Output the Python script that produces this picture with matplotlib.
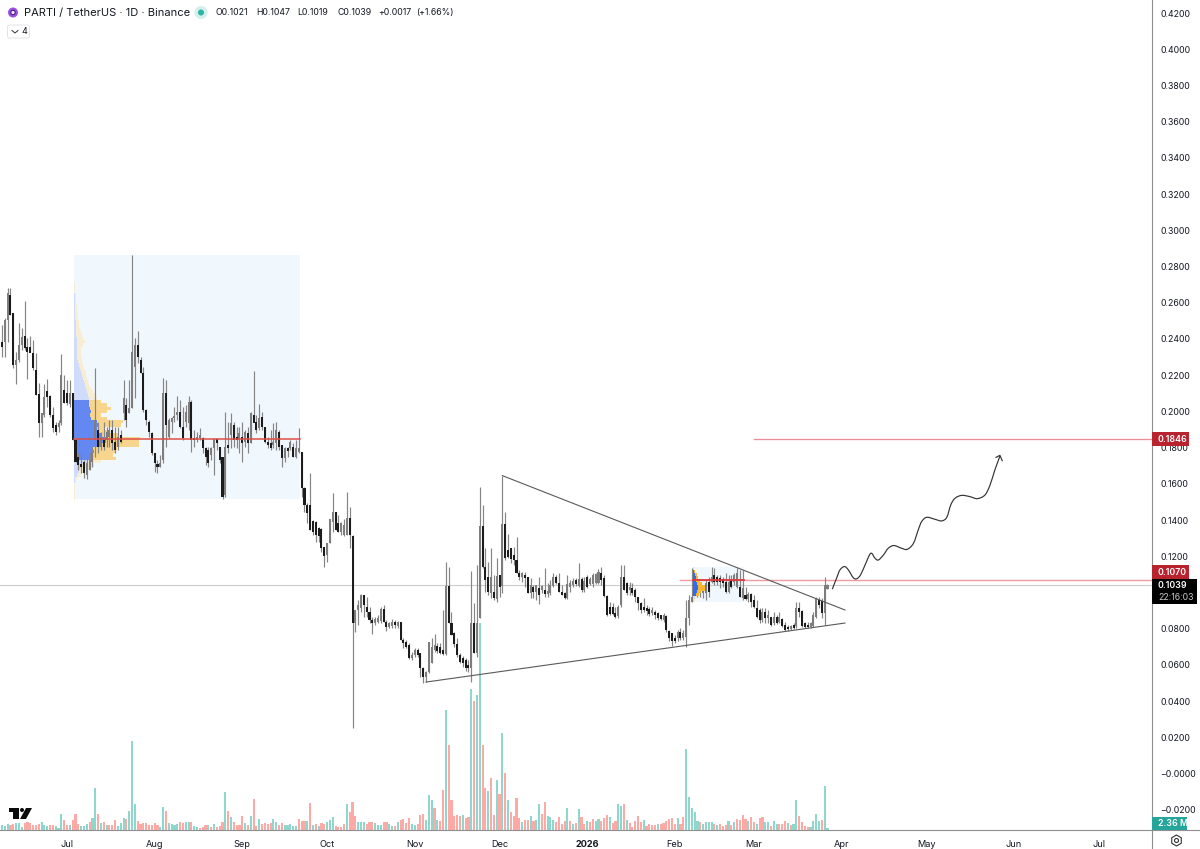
import matplotlib

matplotlib.use("Agg")

import matplotlib.pyplot as plt
import numpy as np
from matplotlib.patches import Circle, FancyBboxPatch, PathPatch, Polygon, Rectangle, RegularPolygon
from matplotlib.path import Path

plt.rcParams["font.family"] = ["Inter", "DejaVu Sans"]

opens = [
    .2385,.2385,.2504,.2642,.2541,.2256,.2284,.2366,.2416,.2357,
    .2357,.2320,.2228,.2096,.1938,.1980,.2114,.2085,.1980,.1925,
    .1916,.1934,.2118,.2103,.2039,.2100,.1842,.1750,.1712,.1722,
    .1649,.1676,.1722,.1842,.1897,.1805,.1842,.1842,.1860,.1897,
    .1833,.1805,.1870,.1989,.2035,.1989,.2017,.2247,.2366,.2284,
    .2210,.2008,.1943,.1882,.1768,.1710,.1695,.1732,.2100,.1860,
    .1943,.1962,.1980,.1998,.1916,.1943,.1934,.2054,.1851,.1842,
    .1851,.1851,.1796,.1787,.1759,.1796,.1848,.1805,.1750,.1538,
    .1814,.1870,.1925,.1860,.1842,.1860,.1833,.1879,.1824,.1980,
    .1943,.1906,.1971,.1916,.1833,.1824,.1814,.1824,.1888,.1814,
    .1741,.1796,.1796,.1805,.1750,.1778,.1778,.1575,.1483,.1483,
    .1396,.1391,.1358,.1351,.1253,.1207,.1271,.1391,.1446,.1385,.1336,.1317,.1317,.1413,
    .1311,.0829,.0903,.0912,.0986,.0921,.0894,.0848,.0829,.0839,
    .0844,.0907,.0839,.0811,.0816,.0835,.0816,.0839,.0737,.0728,
    .0710,.0636,.0655,.0682,.0664,.0581,.0535,.0563,.0609,.0682,
    .0704,.0701,.0682,.0660,.1035,.0829,.0774,.0715,.0655,.0636,
    .0627,.0599,.0581,.0829,.0668,.0857,.1367,.1139,.1087,.0995,
    .1004,.0962,.1096,.1036,.1376,.1234,.1243,.1207,.1179,.1105,
    .1087,.1096,.1083,.0995,.1032,.1004,.1023,.1013,.1013,.0991,
    .0995,.1036,.1083,.1050,.1004,.0995,.0967,.1032,.1041,.1069,
    .1036,.1072,.1013,.1087,.1047,.1047,.1050,.1050,.1109,.1078,
    .0980,.0921,.0921,.0885,.0870,.0931,.1087,.1050,.1013,.1023,
    .1013,.0977,.0940,.0922,.0912,.0907,.0885,.0894,.0885,.0876,
    .0848,.0870,.0789,.0774,.0747,.0747,.0784,.0747,.0756,.0857,
    .0949,.1013,.1041,.1032,.0995,.0995,.1059,.1059,.1096,.1087,
    .1078,.1072,.1059,.1004,.1069,.1059,.1032,.1032,.0968,.0986,
    .0962,.0992,.0958,.0912,.0903,.0848,.0894,.0857,.0863,.0830,
    .0866,.0839,.0852,.0820,.0811,.0800,.0820,.0815,.0912,.0899,
    .0830,.0820,.0811,.0815,.0863,.0958,.0954,.0885,.1021,
]
highs = [
    .2477,.2514,.2679,.2679,.2541,.2330,.2486,.2458,.2609,.2403,
    .2416,.2394,.2320,.2158,.1989,.2151,.2177,.2090,.2026,.1943,
    .1952,.2315,.2201,.2173,.2173,.2100,.1842,.1768,.1768,.1732,
    .1750,.1768,.1805,.2238,.1943,.1888,.1943,.1916,.1952,.1952,
    .1916,.1916,.1897,.2173,.2072,.2173,.2863,.2403,.2446,.2302,
    .2247,.2011,.1952,.1888,.1768,.1732,.1759,.2182,.2173,.1962,
    .1971,.2026,.2087,.2063,.2026,.2035,.2085,.2063,.1897,.1888,
    .1906,.1860,.1805,.1805,.1805,.1851,.1851,.1805,.1750,.1998,
    .1943,.1989,.1943,.1916,.1916,.1943,.1897,.1916,.1998,.2223,
    .1980,.2039,.1998,.1916,.1860,.1897,.1934,.1943,.1897,.1814,
    .1805,.1805,.1842,.1824,.1842,.1906,.1778,.1584,.1492,.1658,
    .1400,.1396,.1360,.1354,.1253,.1271,.1404,.1547,.1446,.1428,.1391,.1404,.1557,.1474,
    .1317,.0903,.0958,.0989,.0986,.0977,.0921,.0866,.0866,.0875,
    .0921,.0931,.0848,.0839,.0851,.0848,.0844,.0839,.0747,.0737,
    .0719,.0673,.0691,.0691,.0668,.0590,.0568,.0728,.0747,.0770,
    .0719,.0719,.0903,.1166,.1142,.0894,.0783,.0747,.0664,.0649,
    .0636,.0627,.1118,.0940,.1151,.1584,.1483,.1243,.1170,.1243,
    .1096,.1188,.1096,.1645,.1446,.1323,.1243,.1253,.1308,.1124,
    .1115,.1115,.1087,.1078,.1041,.1041,.1087,.1041,.1137,.1050,
    .1069,.1105,.1096,.1105,.1041,.1004,.1096,.1069,.1078,.1078,
    .1161,.1087,.1087,.1096,.1087,.1105,.1109,.1127,.1139,.1096,
    .0986,.0949,.0940,.0921,.0931,.1151,.1151,.1059,.1059,.1050,
    .1023,.0977,.0949,.0967,.0931,.0922,.0922,.0903,.0894,.0876,
    .0885,.0876,.0793,.0774,.0765,.0793,.0802,.0793,.0958,.0986,
    .1133,.1096,.1069,.1059,.1041,.1069,.1087,.1139,.1133,.1096,
    .1096,.1087,.1105,.1096,.1096,.1105,.1133,.1124,.1124,.1032,
    .1004,.0995,.0986,.0958,.0912,.0912,.0912,.0903,.0866,.0894,
    .0876,.0894,.0857,.0839,.0820,.0820,.0830,.0949,.0949,.0903,
    .0839,.0839,.0839,.0894,.0977,.0973,.0967,.1087,.1047,
]
lows = [
    .2302,.2302,.2385,.2532,.2238,.2149,.2274,.2339,.2339,.2177,
    .2330,.2228,.2090,.1860,.1860,.1971,.2026,.1971,.1888,.1870,
    .1888,.1925,.2044,.2035,.2026,.1842,.1722,.1676,.1658,.1630,
    .1625,.1676,.1695,.1750,.1768,.1787,.1787,.1805,.1805,.1787,
    .1768,.1787,.1824,.1952,.1916,.1989,.2017,.2072,.2265,.2210,
    .1998,.1925,.1860,.1759,.1667,.1658,.1695,.1713,.1805,.1851,
    .1879,.1943,.1952,.1906,.1842,.1916,.1897,.1778,.1805,.1833,
    .1842,.1768,.1704,.1695,.1732,.1649,.1787,.1713,.1514,.1529,
    .1768,.1796,.1805,.1796,.1768,.1722,.1805,.1768,.1824,.1943,
    .1879,.1897,.1897,.1824,.1796,.1787,.1796,.1787,.1787,.1695,
    .1722,.1750,.1787,.1750,.1741,.1768,.1529,.1446,.1382,.1345,
    .1317,.1281,.1281,.1225,.1139,.1170,.1271,.1336,.1345,.1336,.1317,.1312,.1317,.1244,
    .0253,.0783,.0820,.0894,.0866,.0866,.0829,.0771,.0820,.0829,
    .0829,.0839,.0789,.0802,.0802,.0802,.0802,.0737,.0691,.0691,
    .0631,.0627,.0645,.0645,.0535,.0502,.0507,.0553,.0609,.0673,
    .0664,.0660,.0655,.0655,.0829,.0765,.0701,.0645,.0609,.0590,
    .0568,.0563,.0507,.0664,.0645,.0857,.1133,.1004,.0986,.0967,
    .0958,.0949,.0977,.0999,.1179,.1188,.1161,.1151,.1105,.1069,
    .1059,.1032,.0995,.0967,.0967,.0958,.0936,.0995,.0977,.0977,
    .0986,.1032,.1046,.1004,.0986,.0962,.0962,.1004,.1032,.1036,
    .1032,.1004,.1004,.1023,.1041,.1032,.1047,.1047,.1041,.0977,
    .0870,.0875,.0875,.0857,.0861,.0921,.1013,.0986,.0986,.0986,
    .0949,.0903,.0888,.0894,.0876,.0870,.0876,.0852,.0848,.0848,
    .0839,.0784,.0729,.0704,.0719,.0729,.0737,.0737,.0701,.0820,
    .0949,.0986,.0977,.0977,.0968,.0958,.0977,.1050,.1041,.1041,
    .1023,.1032,.0995,.0995,.1023,.1041,.1023,.0977,.0958,.0958,
    .0949,.0922,.0912,.0857,.0830,.0839,.0830,.0830,.0815,.0820,
    .0826,.0830,.0807,.0789,.0789,.0793,.0796,.0802,.0866,.0807,
    .0802,.0802,.0802,.0807,.0857,.0912,.0857,.0820,.1019,
]
closes = [
    .2357,.2504,.2652,.2532,.2256,.2284,.2366,.2412,.2348,.2330,
    .2324,.2238,.2090,.1938,.1989,.2081,.2081,.1980,.1906,.1888,
    .1938,.2201,.2044,.2044,.2100,.1842,.1722,.1704,.1695,.1658,
    .1713,.1732,.1768,.1952,.1805,.1860,.1805,.1888,.1897,.1824,
    .1787,.1860,.1833,.2072,.1952,.2017,.2330,.2366,.2302,.2210,
    .2008,.1952,.1888,.1768,.1713,.1695,.1713,.2100,.1925,.1952,
    .1962,.1975,.1998,.1916,.1851,.1998,.2054,.1842,.1842,.1860,
    .1870,.1796,.1750,.1713,.1796,.1848,.1824,.1732,.1529,.1805,
    .1796,.1934,.1842,.1842,.1879,.1824,.1888,.1824,.1989,.1934,
    .1897,.1962,.1916,.1833,.1814,.1796,.1833,.1897,.1805,.1741,
    .1796,.1783,.1833,.1750,.1796,.1796,.1575,.1483,.1437,.1345,
    .1336,.1317,.1312,.1244,.1201,.1271,.1404,.1446,.1345,.1336,.1385,.1373,.1409,.1317,
    .0829,.0903,.0931,.0986,.0931,.0894,.0848,.0829,.0851,.0857,
    .0907,.0839,.0811,.0829,.0839,.0820,.0835,.0737,.0719,.0701,
    .0636,.0655,.0682,.0655,.0581,.0535,.0563,.0728,.0701,.0710,
    .0679,.0668,.0660,.1035,.0829,.0765,.0715,.0655,.0618,.0609,
    .0581,.0581,.0829,.0668,.0829,.1367,.1139,.1069,.1004,.1087,
    .0967,.1091,.1032,.1376,.1188,.1197,.1183,.1179,.1105,.1087,
    .1105,.1078,.0999,.1041,.1004,.1041,.0986,.1037,.0991,.1010,
    .1041,.1083,.1050,.1004,.0986,.0967,.1046,.1050,.1065,.1046,
    .1072,.1013,.1065,.1032,.1072,.1096,.1102,.1115,.1069,.0980,
    .0875,.0881,.0881,.0866,.0921,.1087,.1013,.0995,.1032,.0995,
    .0977,.0940,.0903,.0903,.0899,.0881,.0903,.0876,.0857,.0852,
    .0876,.0793,.0747,.0729,.0729,.0784,.0747,.0778,.0857,.0958,
    .0977,.1078,.1004,.1004,.1032,.1050,.1004,.1087,.1059,.1059,
    .1059,.1050,.1004,.1059,.1032,.1096,.1105,.0977,.1023,.0962,
    .0992,.0949,.0922,.0866,.0848,.0894,.0857,.0876,.0820,.0866,
    .0833,.0866,.0815,.0793,.0796,.0815,.0804,.0912,.0894,.0815,
    .0811,.0807,.0830,.0876,.0962,.0931,.0885,.1041,.1039,
]

# volume in millions
volumes = [
    7.8,6.6,10.8,7.8,9.6,12.6,12.6,4.2,11.4,13.2,
    12.6,7.8,8.4,9.6,13.2,7.8,6.6,9,8.4,7.2,
    3.6,28.2,16.8,9,7.8,16.8,27.6,10.8,6,6,
    10.8,13.2,21,75,27.6,12,14.4,8.4,7.8,7.8,
    16.8,7.2,12,20.4,19.8,33,159,46.2,15,10.8,
    12,12.6,9,7.8,11.4,8.4,5.4,41.4,33,12,
    10.8,9,9.6,14.4,12.6,14.4,14.4,14.4,7.2,4.8,
    2.4,5.4,7.8,7.8,5.4,9.6,4.2,6,14.4,67.2,
    33,22.8,14.4,9,9,24,12,8.4,25.2,55.2,
    7.2,19.2,10.2,12.6,9.6,12,19.8,14.4,8.4,12.6,
    7.8,7.8,10.8,7.2,7.2,19.2,15.6,16.2,15,48,
    9,9.6,7.2,12,10.8,14.4,17.4,22.2,6.6,4.8,
    5.4,10.8,46.8,31.2,49.8,25.2,14.4,13.8,13.2,10.8,
    14.4,14.4,11.4,7.8,7.8,13.8,14.4,9.6,7.2,6,
    13.2,16.8,18.6,12,20.4,10.8,7.8,10.8,
    25.8,28.2,16.8,63,54,39,18,15.6,71.4,214.8,
    151.8,52.8,24.6,27,24.6,25.8,21,22.8,252.6,231,
    242.4,372.6,151.8,75,69,93,27,88.8,64.8,174,
    102,54,31.2,24.6,56.4,21,13.2,17.4,18,24,
    15,16.8,46.2,28.2,49.8,25.2,22.8,18,13.2,22.8,
    10.8,16.2,39.6,16.2,10.2,12,37.8,22.8,10.2,15.6,
    13.8,19.2,15.6,19.2,16.2,21.6,25.8,22.8,12,15.6,
    45.6,42.6,46.2,16.8,12,4.8,15,24,13.2,17.4,
    6.6,10.2,7.8,8.4,10.2,10.2,12,15,19.8,21,
    10.2,21,10.2,22.8,145.2,58.8,38.4,31.2,16.2,13.2,
    10.8,14.4,13.2,13.2,10.2,8.4,9.6,6,7.8,15,
    8.4,13.2,19.2,17.4,27,19.2,15.6,22.8,13.2,10.2,
    20.4,22.8,13.8,13.2,7.2,16.2,10.2,10.2,10.8,15.6,
    12.6,8.4,10.2,52.8,24.6,14.4,6.6,4.8,5.4,15.6,
    28.2,15,18,78,2.36,
]
# u = teal bar, d = pink bar
volume_dirs = "".join(
    """uuudd uuudd ddddu uuddu uuddu ddduu uduud ududd duuud uuudd
    ddddd duudu uuudd uuduu dddud udddu duddd dudud duddd duudd
    uuuuu dddud ududd uuudd ddudd duuud dduuu dduud udddd uud
    dduuu duddu ddddd uddud uuddu ddudu duddd duddu duudd uuudd
    ddudu duddu dduud ddudd uudud ddddu ddddu ddddd duddu uuuud
    uuuud udddu duddd duddu dduud uuddd uduud ddduu uuduu""".split()
)

y_ticks = [round(0.42 - 0.02 * k, 2) for k in range(23)]
y_labels = [f"{v:.4f}" for v in y_ticks[:-2]] + ["\u22120.0000", "\u22120.0200"]
# 0.1000 sits under the last price tag in the reference
y_labels[y_ticks.index(0.1)] = ""
month_pos = [23, 54, 85, 115, 146, 176, 207, 238, 266, 297, 327, 358, 388]
month_labels = ["Jul", "Aug", "Sep", "Oct", "Nov", "Dec", "2026", "Feb", "Mar", "Apr", "May", "Jun", "Jul"]

# volume profile, first session (blue part, total), rows from top to bottom
vp1_up = [0,1,1,2,2,3,3,3,3,4,4,5,5,6,6,7,8,9,8,9,10,10,10,12,14,18,22,24,26,29,32,35,38,41,44,
          45,46,47,50,47,50,70,72,70,72,85,100,95,80,58,60,58,55,42,
          25,18,14,8,3,2,1,1,1,1,1]
vp1_total = [2,3,4,5,6,7,8,9,10,11,12,14,16,18,20,24,28,32,28,22,20,22,24,25,26,31,36,37,38,42,46,52,58,64,70,
             80,100,110,100,82,100,148,140,90,100,135,198,195,195,130,125,118,125,80,
             60,45,30,20,10,5,4,3,2,2,2]
vp2_up = [2,4,6,8,10,12,14,15,13,10,7,4]
vp2_total = [4,7,11,15,20,27,36,36,25,18,12,6]

upper_line_x = [177, 298.2]
upper_line_y = [0.1645, 0.0903]
lower_line_x = [150, 298.2]
lower_line_y = [0.0505, 0.0831]
path_x = [293.7,295.2,296.4,298.0,299.4,301.1,302.3,303.7,305.3,307.3,308.8,310.0,311.8,313.5,315.5,318.2,320.2,
          322.4,324.1,325.3,327.1,330.0,332.4,334.2,335.6,337.1,339.5,342.4,345.0,347.7,349.5,351.2,353.0]
path_y = [.1018,.1078,.1124,.1143,.1124,.1082,.1075,.1097,.1152,.1216,.1189,.1179,.1207,.1244,.1259,.1244,.1238,
          .1271,.1345,.1391,.1415,.1404,.1395,.1415,.1483,.1520,.1536,.1529,.1518,.1538,.1593,.1676,.1753]
head_x = [351.6, 353.0, 353.8]
head_y = [.1746, .1757, .1728]

POC_BIG = 0.1846
POC_SMALL = 0.1070
LAST_PRICE = 0.1039

W, H = 1200, 849
PLOT_R, PLOT_B = 1152, 830
PX_PER_BAR = 2.827
PX_PER_PRICE = 1810.7
PX_PER_MILLION = 1 / 1.8

fig = plt.figure(figsize=(W / 100, H / 100), dpi=100, facecolor="white")
rect = [0, (H - PLOT_B) / H, PLOT_R / W, PLOT_B / H]

ax_vol = fig.add_axes(rect, zorder=1)
ax = fig.add_axes(rect, zorder=2, sharex=ax_vol)
ax.patch.set_visible(False)

xs = np.arange(len(closes))
o, h, l, c = map(np.array, (opens, highs, lows, closes))
up = c >= o

ax.set_xlim(-2 / PX_PER_BAR, (PLOT_R - 2) / PX_PER_BAR)
ax.set_ylim((773.5 - PLOT_B) / PX_PER_PRICE, 773.5 / PX_PER_PRICE)
ax_vol.set_ylim(-0.5 / PX_PER_MILLION, (PLOT_B - 0.5) / PX_PER_MILLION)
ax_vol.axis("off")

vol_colors = ["#8fd6cd" if d == "u" else "#fda9a5" for d in volume_dirs]
ax_vol.bar(xs, volumes, width=0.75, color=vol_colors, linewidth=0)

# volume profile boxes
ax.add_patch(Rectangle((25.5, 0.1516), 79.9, 0.1348, facecolor="#f1f8fd", edgecolor="none", zorder=1))
ax.add_patch(Rectangle((244.4, 0.0947), 18.1, 0.0193, facecolor="#f1f8fd", edgecolor="none", zorder=1))


def draw_profile(prices, up_vals, total_vals, left, row, colors, zorder):
    # colors: value area blue, value area orange, outer blue, outer orange
    prices, va_top, va_bottom = prices
    up_w = np.array(up_vals) / 8.48
    total_w = np.array(total_vals) / 8.48
    in_va = (prices <= va_top) & (prices >= va_bottom)
    ax.barh(prices, up_w, left=left, height=row, color=np.where(in_va, colors[0], colors[2]), linewidth=0, zorder=zorder)
    ax.barh(prices, total_w - up_w, left=left + up_w, height=row, color=np.where(in_va, colors[1], colors[3]),
            linewidth=0, zorder=zorder)


draw_profile((np.linspace(0.2698, 0.1520, len(vp1_total)), 0.2054, 0.1725), vp1_up, vp1_total, 25.5, 0.00186,
             ("#6488f2", "#f7d58c", "#cfdcfb", "#f6edd3"), 2)

# candles
ax.vlines(xs, l, h, color="#858585", linewidth=0.85, zorder=3)
body_bottom = np.minimum(o, c)
body_height = np.maximum(np.abs(c - o), 0.0005)
ax.bar(xs, body_height, bottom=body_bottom, width=0.72, color=np.where(up, "#7d7d7d", "#1c1c1c"), linewidth=0, zorder=4)

# second profile sits over the candles
draw_profile((np.linspace(0.1130, 0.0955, len(vp2_total)), 0.1115, 0.0975), vp2_up, vp2_total, 244.4, 0.0016,
             ("#2f6cf2", "#f9b62e", "#cfdcfb", "#f6edd3"), 5)

# levels
ax.axhline(LAST_PRICE, color="#cccccc", linewidth=0.8, zorder=1.5)
ax.plot([25.5, 105.4], [POC_BIG, POC_BIG], color="#df4f45", linewidth=1.1, zorder=5)
ax.plot([266, (PLOT_R - 2) / PX_PER_BAR], [POC_BIG, POC_BIG], color="#ea8f9a", linewidth=0.95, zorder=2)
ax.plot([240, (PLOT_R - 2) / PX_PER_BAR], [POC_SMALL, POC_SMALL], color="#f09aa4", linewidth=1.0, zorder=2)
ax.plot([244.4, 262.5], [POC_SMALL, POC_SMALL], color="#e0393e", linewidth=1.3, zorder=6)

# drawings
ax.plot(upper_line_x, upper_line_y, color="#5a5a5a", linewidth=0.8, zorder=6)
ax.plot(lower_line_x, lower_line_y, color="#5a5a5a", linewidth=0.8, zorder=6)

# freehand brush, catmull-rom through the drawn points
px = np.array(path_x)
py = np.array(path_y)
verts = [(px[0], py[0])]
codes = [Path.MOVETO]
for k in range(len(px) - 1):
    a = max(k - 1, 0)
    d = min(k + 2, len(px) - 1)
    verts += [
        (px[k] + (px[k + 1] - px[a]) / 6, py[k] + (py[k + 1] - py[a]) / 6),
        (px[k + 1] - (px[d] - px[k]) / 6, py[k + 1] - (py[d] - py[k]) / 6),
        (px[k + 1], py[k + 1]),
    ]
    codes += [Path.CURVE4] * 3
ax.add_patch(PathPatch(Path(verts, codes), facecolor="none", edgecolor="#333333", linewidth=0.85, zorder=6))
ax.plot(head_x, head_y, color="#333333", linewidth=0.85, zorder=6)

# axes
for s in ax.spines.values():
    s.set_visible(False)
ax.yaxis.tick_right()
ax.set_yticks(y_ticks)
ax.set_yticklabels(y_labels)
ax.set_xticks(month_pos)
ax.set_xticklabels(month_labels)
ax.tick_params(axis="y", length=0, pad=6, labelsize=6.3, labelcolor="#131722")
ax.tick_params(axis="x", length=0, pad=7.5, labelsize=6.6, labelcolor="#131722")
ax.get_xticklabels()[6].set_fontweight("bold")

# chrome drawn in pixel coordinates on top
ui = fig.add_axes([0, 0, 1, 1], zorder=3)
ui.set_xlim(0, W)
ui.set_ylim(H, 0)
ui.axis("off")

ui.plot([PLOT_R, PLOT_R], [0, H], color="#8f8f8f", linewidth=0.8)
ui.plot([0, W], [PLOT_B, PLOT_B], color="#8f8f8f", linewidth=0.8)


def tag(x0, y0, x1, y1, color, text, tx, ty):
    ui.add_patch(Rectangle((x0, y0), x1 - x0, y1 - y0, facecolor=color, edgecolor="none", zorder=5))
    ui.text(tx, ty, text, color="white", fontsize=6.3, fontweight="semibold", ha="left", va="center", zorder=6)


tag(1152, 432, 1189, 446, "#b8232f", "0.1846", 1158, 439.5)
tag(1152, 565, 1189, 579, "#b8232f", "0.1070", 1158, 572.5)
tag(1152, 579, 1197, 604, "#000000", "0.1039", 1158, 585.5)
ui.text(1158, 597, "22:16:03", color="#c8c8c8", fontsize=6.3, ha="left", va="center", zorder=6)
tag(1152, 817, 1187, 829.5, "#26a69a", "2.36 M", 1158, 823.5)

# settings icon
ui.add_patch(RegularPolygon((1176.5, 840.5), 6, radius=5.5, facecolor="none", edgecolor="#333333", linewidth=0.8))
ui.add_patch(Circle((1176.5, 840.5), 2, facecolor="none", edgecolor="#333333", linewidth=0.8))

# watermark
ui.add_patch(Polygon([(9, 808), (19, 808), (19, 819), (13, 819), (13, 812), (9, 812)], facecolor="#0b0b0b", edgecolor="none"))
ui.add_patch(Circle((22, 810), 2, facecolor="#0b0b0b", edgecolor="none"))
ui.add_patch(Polygon([(26, 808), (32, 808), (26, 819), (20, 819)], facecolor="#0b0b0b", edgecolor="none"))

# header
ui.add_patch(Circle((13, 12.5), 5, facecolor="#9b51e0", edgecolor="none"))
ui.add_patch(Circle((13, 12.5), 2.2, facecolor="#f4e8ff", edgecolor="#4a1a88", linewidth=0.8))
ui.text(23.5, 12.5, "PARTI / TetherUS \u00b7 1D \u00b7 Binance", color="#131722", fontsize=8, ha="left", va="center")
ui.add_patch(Circle((201, 12.5), 6.5, facecolor="#d3efec", edgecolor="none"))
ui.add_patch(Circle((201, 12.5), 3, facecolor="#2db5a3", edgecolor="none"))
for x_pos, text in zip([215, 256, 297, 337, 378, 416],
                       ["O0.1021", "H0.1047", "L0.1019", "C0.1039", "+0.0017", "(+1.66%)"]):
    ui.text(x_pos, 12.5, text, color="#131722", fontsize=6.3, ha="left", va="center")
ui.add_patch(FancyBboxPatch((7.5, 25), 22, 13, boxstyle="round,pad=0,rounding_size=2", facecolor="white", edgecolor="#e4e4e4", linewidth=0.7))
ui.plot([12, 15, 18], [30.5, 33, 30.5], color="#333333", linewidth=0.7)
ui.text(24.5, 31.5, "4", color="#131722", fontsize=6.5, ha="center", va="center")

fig.savefig("out.png", dpi=100, facecolor="white")
